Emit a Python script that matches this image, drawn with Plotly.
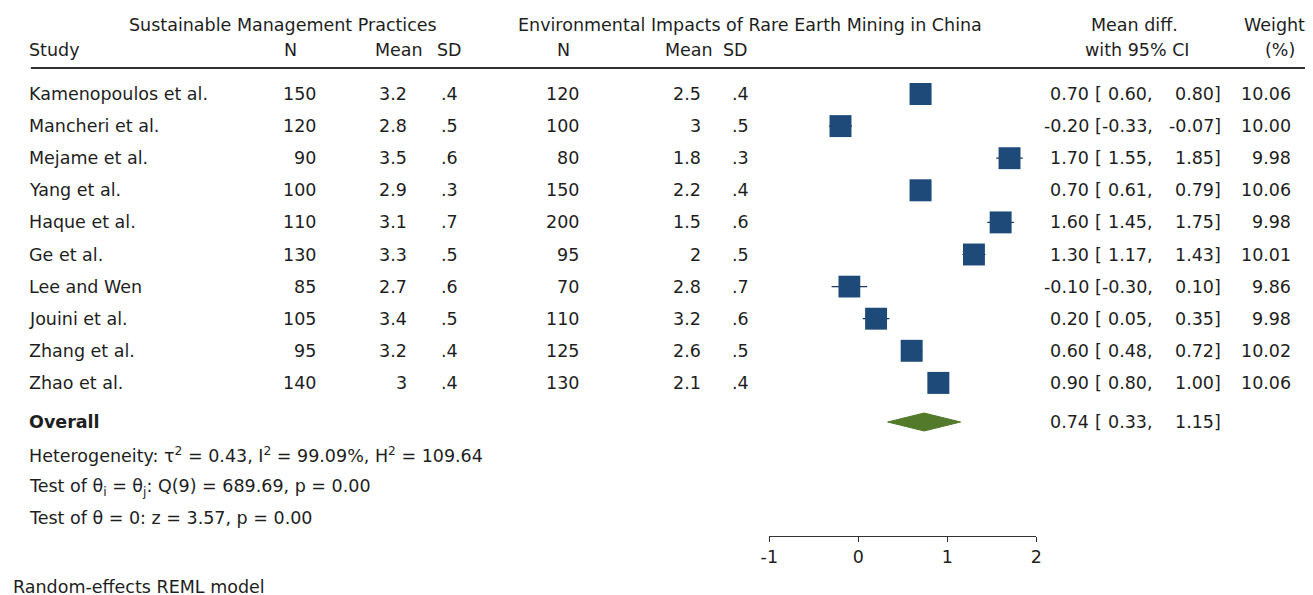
import plotly.graph_objects as go

# ---------------- data ----------------
studies = ["Kamenopoulos et al.", "Mancheri et al.", "Mejame et al.", "Yang et al.",
           "Haque et al.", "Ge et al.", "Lee and Wen", "Jouini et al.",
           "Zhang et al.", "Zhao et al."]
n1 = [150, 120, 90, 100, 110, 130, 85, 105, 95, 140]
mean1 = [3.2, 2.8, 3.5, 2.9, 3.1, 3.3, 2.7, 3.4, 3.2, 3.0]
sd1 = [0.4, 0.5, 0.6, 0.3, 0.7, 0.5, 0.6, 0.5, 0.4, 0.4]
n2 = [120, 100, 80, 150, 200, 95, 70, 110, 125, 130]
mean2 = [2.5, 3.0, 1.8, 2.2, 1.5, 2.0, 2.8, 3.2, 2.6, 2.1]
sd2 = [0.4, 0.5, 0.3, 0.4, 0.6, 0.5, 0.7, 0.6, 0.5, 0.4]
mean_diff = [0.70, -0.20, 1.70, 0.70, 1.60, 1.30, -0.10, 0.20, 0.60, 0.90]
ci_low = [0.60, -0.33, 1.55, 0.61, 1.45, 1.17, -0.30, 0.05, 0.48, 0.80]
ci_high = [0.80, -0.07, 1.85, 0.79, 1.75, 1.43, 0.10, 0.35, 0.72, 1.00]
weights = [10.06, 10.00, 9.98, 10.06, 9.98, 10.01, 9.86, 9.98, 10.02, 10.06]

overall_est = 0.74
overall_low = 0.33
overall_high = 1.15

tau2, i2, h2 = 0.43, 99.09, 109.64
q_df, q_stat, q_p = 9, 689.69, 0.00
z_stat, z_p = 3.57, 0.00

x_ticks = [-1, 0, 1, 2]

group1_title = "Sustainable Management Practices"
group2_title = "Environmental Impacts of Rare Earth Mining in China"
model_note = "Random-effects REML model"

# ---------------- layout constants ----------------
W, H = 1313, 595
PAGE_OFF = 8          # default page margin around the figure
FONT = "DejaVu Sans"
FS = 17.5
TXT = "#1e1e1e"
BLUE = "#1d4a78"
GREEN = "#527a2a"
ROW0, ROWH = 94.0, 32.1
ANCHOR_DX = {"left": -9, "right": -2, "center": -3}


def row_of(px):
    return (px - ROW0) / ROWH


def xp(px):
    return (px - PAGE_OFF) / W


def fmt_num(v):
    s = "%g" % v
    if s.startswith("0."):
        s = s[1:]
    return s


annotations = []


def add(xpx, ypx_or_row, text, anchor="left", bold=False, use_row=False):
    y = ypx_or_row if use_row else row_of(ypx_or_row)
    annotations.append(dict(
        x=xp(xpx + ANCHOR_DX[anchor]), xref="paper", y=y, yref="y",
        text=("<b>%s</b>" % text) if bold else text,
        xanchor=anchor, yanchor="middle", showarrow=False, borderpad=0,
        font=dict(family=FONT, size=FS, color=TXT)))


# header
add(280, 25, group1_title, "center")
add(752, 25, group2_title, "center")
add(1141, 25, "Mean diff.", "center")
add(1283, 25, "Weight", "center")
add(28, 50, "Study", "left")
add(288, 50, "N", "center")
add(397, 50, "Mean", "center")
add(448, 50, "SD", "center")
add(564, 50, "N", "center")
add(691, 50, "Mean", "center")
add(738, 50, "SD", "center")
add(1144, 50, "with 95% CI", "center")
add(1289, 50, "(%)", "center")

# study rows
for i, s in enumerate(studies):
    add(28, i, s, "left", use_row=True)
    add(313, i, str(n1[i]), "right", use_row=True)
    add(406, i, fmt_num(mean1[i]), "right", use_row=True)
    add(457, i, fmt_num(sd1[i]), "right", use_row=True)
    add(580, i, str(n2[i]), "right", use_row=True)
    add(703, i, fmt_num(mean2[i]), "right", use_row=True)
    add(751, i, fmt_num(sd2[i]), "right", use_row=True)
    add(1095, i, "%.2f" % mean_diff[i], "right", use_row=True)
    add(1106, i, "[", "left", use_row=True)
    add(1160, i, "%.2f," % ci_low[i], "right", use_row=True)
    add(1229, i, "%.2f]" % ci_high[i], "right", use_row=True)
    add(1300, i, "%.2f" % weights[i], "right", use_row=True)

# overall
OV_ROW = row_of(422)
add(28, OV_ROW, "Overall", "left", bold=True, use_row=True)
add(1095, OV_ROW, "%.2f" % overall_est, "right", use_row=True)
add(1106, OV_ROW, "[", "left", use_row=True)
add(1160, OV_ROW, "%.2f," % overall_low, "right", use_row=True)
add(1229, OV_ROW, "%.2f]" % overall_high, "right", use_row=True)

add(28, 455, "Heterogeneity: τ<sup>2</sup> = %.2f, I<sup>2</sup> = %.2f%%, H<sup>2</sup> = %.2f" % (tau2, i2, h2), "left")
add(28, 487, "Test of θ<sub>i</sub> = θ<sub>j</sub>: Q(%d) = %.2f, p = %.2f" % (q_df, q_stat, q_p), "left")
add(28, 518, "Test of θ = 0: z = %.2f, p = %.2f" % (z_stat, z_p), "left")
add(12, 587, model_note, "left")

fig = go.Figure()

# CI whiskers (drawn first so the squares sit on top)
wx, wy = [], []
for i, (l, h) in enumerate(zip(ci_low, ci_high)):
    wx += [l, h, None]
    wy += [i, i, None]
fig.add_trace(go.Scatter(x=wx, y=wy, mode="lines",
                         line=dict(color="#1a3a5e", width=1.2),
                         hoverinfo="skip", cliponaxis=False))

# study markers, area proportional to weight
sizes = [22 * (w / 10.06) ** 0.5 for w in weights]
fig.add_trace(go.Scatter(
    x=mean_diff, y=list(range(len(studies))), mode="markers",
    marker=dict(symbol="square", size=sizes, color=BLUE, opacity=1, line=dict(width=0)),
    cliponaxis=False, hoverinfo="skip"))

# overall diamond
dh = 9 / ROWH
fig.add_trace(go.Scatter(
    x=[overall_low, overall_est, overall_high, overall_est, overall_low],
    y=[OV_ROW, OV_ROW - dh, OV_ROW, OV_ROW + dh, OV_ROW],
    mode="lines", fill="toself", fillcolor=GREEN,
    line=dict(color=GREEN, width=1), hoverinfo="skip"))

# header rule
fig.add_shape(type="line", xref="paper", yref="y",
              x0=xp(22), x1=1.0, y0=row_of(68), y1=row_of(68),
              line=dict(color="#333333", width=2))

fig.update_layout(
    width=W, height=H,
    margin=dict(l=0, r=0, t=0, b=0),
    paper_bgcolor="white", plot_bgcolor="white",
    showlegend=False,
    annotations=annotations,
    xaxis=dict(domain=[xp(769), xp(1039)], range=[-1, 2], tickvals=x_ticks,
               ticktext=[str(t) for t in x_ticks],
               ticks="outside", ticklen=5, tickcolor="#333333", tickwidth=1,
               showline=True, linecolor="#333333", linewidth=1,
               showgrid=False, zeroline=False,
               anchor="free", position=1 - (536 - PAGE_OFF) / H,
               tickfont=dict(family=FONT, size=FS, color=TXT)),
    yaxis=dict(domain=[0, 1], range=[row_of(H + PAGE_OFF), row_of(PAGE_OFF)], visible=False,
               showgrid=False, zeroline=False),
)

fig.write_html("out.html")
